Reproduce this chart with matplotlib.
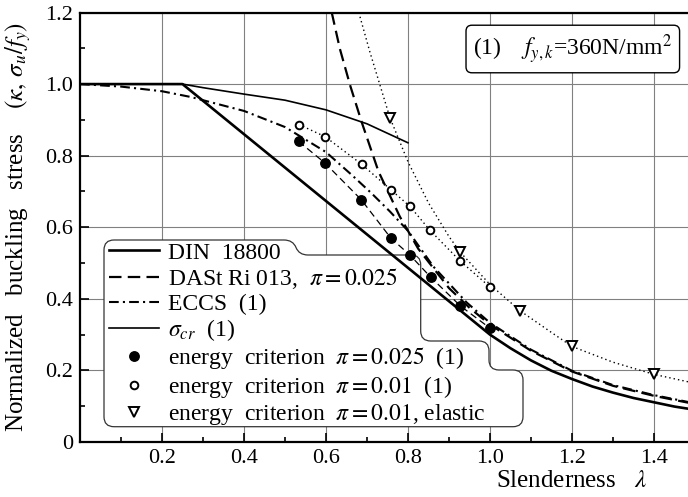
import matplotlib
matplotlib.use('Agg')
import matplotlib.pyplot as plt
from matplotlib.path import Path
from matplotlib.patches import PathPatch
import matplotlib.transforms as mtransforms
import numpy as np

plt.rcParams['font.family'] = ['Liberation Serif', 'DejaVu Serif']
plt.rcParams['mathtext.fontset'] = 'stix'
plt.rcParams['font.size'] = 16
plt.rcParams['lines.scale_dashes'] = False

# DIN 18800 design curve
lam_din = [0.0, 0.25, 1.0, 1.05, 1.1, 1.15, 1.2, 1.25, 1.3, 1.35, 1.4, 1.45, 1.5]
k_din = [1.0, 1.0, 0.30, 0.262, 0.228, 0.199, 0.176, 0.155, 0.138, 0.123, 0.111, 0.099, 0.090]

# DASt Ri 013, pi = 0.025
lam_dast = [0.614, 0.634, 0.659, 0.687, 0.728, 0.78, 0.825, 0.9, 0.95, 1.0, 1.1, 1.2, 1.3, 1.4, 1.5]
k_dast = [1.2, 1.098, 0.996, 0.894, 0.756, 0.63, 0.54, 0.43, 0.375, 0.328, 0.255, 0.197, 0.157, 0.129, 0.106]

# ECCS (1)
lam_eccs = [0.0, 0.1, 0.2, 0.27, 0.4, 0.5, 0.6, 0.663, 0.711, 0.756, 0.8, 0.862, 0.943, 1.0, 1.1, 1.2, 1.3, 1.4, 1.5]
k_eccs = [1.0, 0.993, 0.98, 0.964, 0.925, 0.88, 0.81, 0.746, 0.695, 0.644, 0.59, 0.49, 0.39, 0.333, 0.258, 0.199, 0.159, 0.131, 0.108]

# sigma_cr (1)
lam_cr = [0.0, 0.25, 0.3, 0.4, 0.5, 0.6, 0.7, 0.8]
k_cr = [1.0, 1.0, 0.99, 0.972, 0.955, 0.928, 0.889, 0.836]

# energy criterion points
lam_e25 = [0.533, 0.597, 0.686, 0.758, 0.805, 0.855, 0.928, 1.0]
k_e25 = [0.84, 0.78, 0.677, 0.57, 0.522, 0.461, 0.38, 0.318]

lam_e01 = [0.534, 0.598, 0.687, 0.758, 0.805, 0.854, 0.927, 1.0]
k_e01 = [0.887, 0.853, 0.776, 0.705, 0.658, 0.591, 0.506, 0.433]

lam_el = [0.756, 0.927, 1.073, 1.2, 1.4]
k_el = [0.906, 0.531, 0.367, 0.267, 0.189]

# elastic curve through the triangles
lam_elc = [0.68, 0.707, 0.732, 0.756, 0.8, 0.85, 0.9, 0.927, 1.0, 1.073, 1.15, 1.2, 1.3, 1.4, 1.5]
k_elc = [1.2, 1.09, 0.996, 0.906, 0.783, 0.668, 0.574, 0.531, 0.44, 0.367, 0.306, 0.267, 0.223, 0.189, 0.164]

fig = plt.figure(figsize=(6.88, 4.97), dpi=100)
W, H = 688, 497
ax = fig.add_axes([80 / W, 55 / H, 608 / W, 429.5 / H])
px = mtransforms.Affine2D().scale(1 / W, -1 / H).translate(0, 1) + fig.transFigure

ax.plot(lam_din, k_din, color='black', lw=1.9, label='DIN  18800', zorder=3)
ax.plot(lam_dast, k_dast, color='black', lw=1.6, ls=(0, (9, 4.5)),
        label=r'DASt Ri 013,  $\pi=0.025$', zorder=3)
ax.plot(lam_eccs, k_eccs, color='black', lw=1.5, ls=(0, (7, 3, 1.5, 3)),
        label='ECCS  (1)', zorder=3)
ax.plot(lam_cr, k_cr, color='black', lw=1.2, label=r'$\sigma_{cr}$  (1)', zorder=3)

ax.plot(lam_e25, k_e25, color='black', lw=0.9, ls=(0, (5, 3)), zorder=3)
ax.plot(lam_e01, k_e01, color='black', lw=1.0, ls=(0, (1, 2.2)), zorder=3)
ax.plot(lam_elc, k_elc, color='black', lw=1.0, ls=(0, (1, 2.2)), zorder=3)

ax.plot(lam_e25, k_e25, ls='none', marker='o', ms=6.8, mfc='black', mec='black',
        label=r'energy  criterion  $\pi=0.025$  (1)', zorder=4)
ax.plot(lam_e01, k_e01, ls='none', marker='o', ms=5.5, mfc='white', mec='black', mew=1.4,
        label=r'energy  criterion  $\pi=0.01$  (1)', zorder=4)
ax.plot(lam_el, k_el, ls='none', marker='v', ms=6.5, mfc='white', mec='black', mew=1.4,
        label=r'energy  criterion  $\pi=0.01$, elastic', zorder=4)

ax.set_xlim(0, 1.483)
ax.set_ylim(0, 1.2)
ax.set_xticks([0.2, 0.4, 0.6, 0.8, 1.0, 1.2, 1.4])
ax.set_xticks(np.arange(0.1, 1.5, 0.1), minor=True)
ax.set_yticks([0, 0.2, 0.4, 0.6, 0.8, 1.0, 1.2])
ax.set_yticklabels(['0', '0.2', '0.4', '0.6', '0.8', '1.0', '1.2'])
ax.set_yticks(np.arange(0.1, 1.2, 0.1), minor=True)
ax.tick_params(which='both', direction='in', top=False, right=False, width=1.2, pad=5)
ax.tick_params(which='major', length=6.5)
ax.tick_params(which='minor', length=3.6)
ax.set_axisbelow(True)
ax.grid(True, which='major', color='#808080', lw=0.8)
ax.spines['right'].set_visible(False)
for s in ['left', 'bottom', 'top']:
    ax.spines[s].set_linewidth(1.6)

ax.set_ylabel(r'Normalized   buckling   stress    $(\kappa,\, \sigma_u/f_y)$', fontsize=18)
ax.yaxis.set_label_coords(-0.077, 0.5)
ax.set_xlabel(r'Slenderness   $\lambda$', fontsize=18)
ax.xaxis.set_label_coords(0.809, -0.066)

# legend outline (stepped, rounded)
verts = [(104, 416.7), (104, 250), (104, 240), (114, 240), (284, 240),
         (293, 240), (296, 247.5), (299, 255), (308, 255), (411, 255),
         (420.7, 255), (420.7, 265), (420.7, 331), (420.7, 341), (430.7, 341),
         (479, 341), (489, 341), (489, 351), (489, 360), (489, 370), (499, 370),
         (513, 370), (523, 370), (523, 380), (523, 416.7), (523, 426.7), (513, 426.7),
         (114, 426.7), (104, 426.7), (104, 416.7), (104, 416.7)]
codes = [Path.MOVETO, Path.LINETO, Path.CURVE3, Path.CURVE3, Path.LINETO,
         Path.CURVE3, Path.CURVE3, Path.CURVE3, Path.CURVE3, Path.LINETO,
         Path.CURVE3, Path.CURVE3, Path.LINETO, Path.CURVE3, Path.CURVE3,
         Path.LINETO, Path.CURVE3, Path.CURVE3, Path.LINETO, Path.CURVE3, Path.CURVE3,
         Path.LINETO, Path.CURVE3, Path.CURVE3, Path.LINETO, Path.CURVE3, Path.CURVE3,
         Path.LINETO, Path.CURVE3, Path.CURVE3, Path.CLOSEPOLY]
outline = PathPatch(Path(verts, codes), transform=px, facecolor='white',
                    edgecolor='#333333', lw=0.9, zorder=1, clip_on=False)
ax.add_patch(outline)

leg = ax.legend(loc='upper left', bbox_to_anchor=(109 / W, 1 - 242 / H),
                bbox_transform=fig.transFigure, frameon=False, borderpad=0,
                borderaxespad=0, handlelength=2.1, handletextpad=0.42,
                labelspacing=0.1, numpoints=1, fontsize=17)
leg.set_zorder(5)

ax.text(572.8, 49, r'(1)    $f_{y,k}$=360N/mm$^2$', transform=px, ha='center', va='center',
        fontsize=17, bbox=dict(boxstyle='round,pad=0.3,rounding_size=0.25',
                               fc='white', ec='black', lw=1.0), zorder=6)

fig.savefig('out.png', dpi=100)
